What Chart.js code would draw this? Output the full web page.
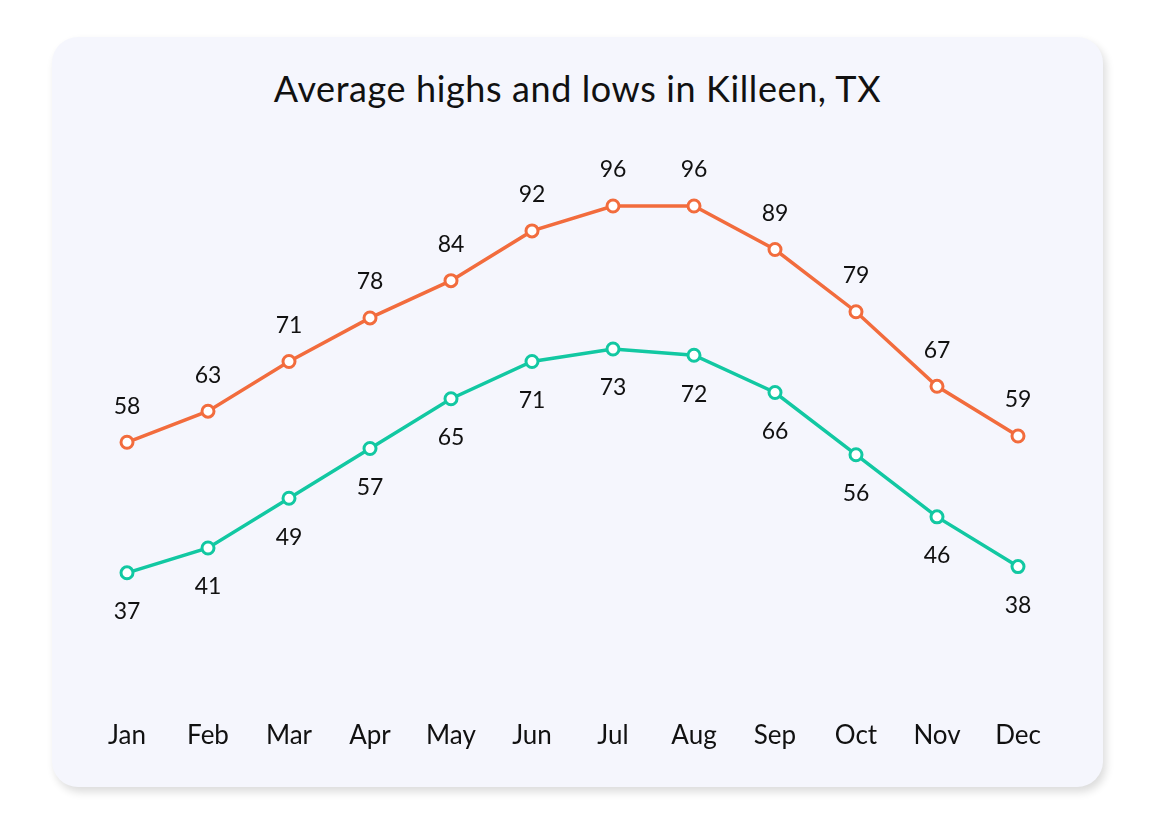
<!DOCTYPE html>
<html>
<head>
<meta charset="utf-8">
<script src="https://cdn.jsdelivr.net/npm/chart.js@4.4.1/dist/chart.umd.min.js"></script>
<style>
  html, body { margin: 0; padding: 0; background: #ffffff; }
  body { width: 1155px; height: 825px; position: relative; overflow: hidden; font-family: 'Lato', sans-serif; }
  .card {
    position: absolute; left: 52px; top: 37px; width: 1051px; height: 750px;
    background: #f5f6fd; border-radius: 26px;
    box-shadow: 3px 5px 8px rgba(0, 0, 0, 0.14);
  }
  .card h1 {
    position: absolute; left: 0; right: 0; top: 29px; margin: 0;
    text-align: center; font-weight: 400; font-size: 36px; letter-spacing: 0.6px; color: #111;
  }
  .card canvas { position: absolute; left: 0; top: 0; }
</style>
</head>
<body>
<div class="card">
  <h1>Average highs and lows in Killeen, TX</h1>
  <canvas id="chart" width="1051" height="750"></canvas>
</div>
<script>
const months = ['Jan', 'Feb', 'Mar', 'Apr', 'May', 'Jun', 'Jul', 'Aug', 'Sep', 'Oct', 'Nov', 'Dec'];
const highs = [58, 63, 71, 78, 84, 92, 96, 96, 89, 79, 67, 59];
const lows = [37, 41, 49, 57, 65, 71, 73, 72, 66, 56, 46, 38];

const ORANGE = '#f26c3d';
const TEAL = '#12c8a2';

// value labels: highs above the point, lows below
const pointLabels = {
  id: 'pointLabels',
  afterDatasetsDraw(chart) {
    const ctx = chart.ctx;
    ctx.save();
    ctx.font = '23px Lato, sans-serif';
    ctx.fillStyle = '#111';
    ctx.textAlign = 'center';
    ctx.textBaseline = 'middle';
    chart.data.datasets.forEach((ds, i) => {
      const meta = chart.getDatasetMeta(i);
      const off = ds.labelPos === 'above' ? -36 : 39;
      meta.data.forEach((pt, j) => {
        ctx.fillText(String(ds.data[j]), pt.x, pt.y + off);
      });
    });
    ctx.restore();
  },
};

function lineSet(label, data, color, labelPos) {
  return {
    label,
    data,
    labelPos,
    borderColor: color,
    borderWidth: 3.5,
    pointRadius: 6,
    pointBorderWidth: 3,
    pointBackgroundColor: '#ffffff',
    pointBorderColor: color,
    tension: 0,
    fill: false,
  };
}

new Chart(document.getElementById('chart'), {
  type: 'line',
  data: {
    labels: months,
    datasets: [
      lineSet('Average high', highs, ORANGE, 'above'),
      lineSet('Average low', lows, TEAL, 'below'),
    ],
  },
  options: {
    responsive: false,
    animation: false,
    layout: { padding: { left: 75, right: 85, top: 82, bottom: 32 } },
    plugins: { legend: { display: false }, tooltip: { enabled: false } },
    scales: {
      x: {
        grid: { display: false, drawTicks: false },
        border: { display: false },
        ticks: { color: '#111', font: { family: 'Lato', size: 26 }, padding: 4, maxRotation: 0 },
      },
      y: { display: false, min: 14, max: 110 },
    },
  },
  plugins: [pointLabels],
});
</script>
</body>
</html>
